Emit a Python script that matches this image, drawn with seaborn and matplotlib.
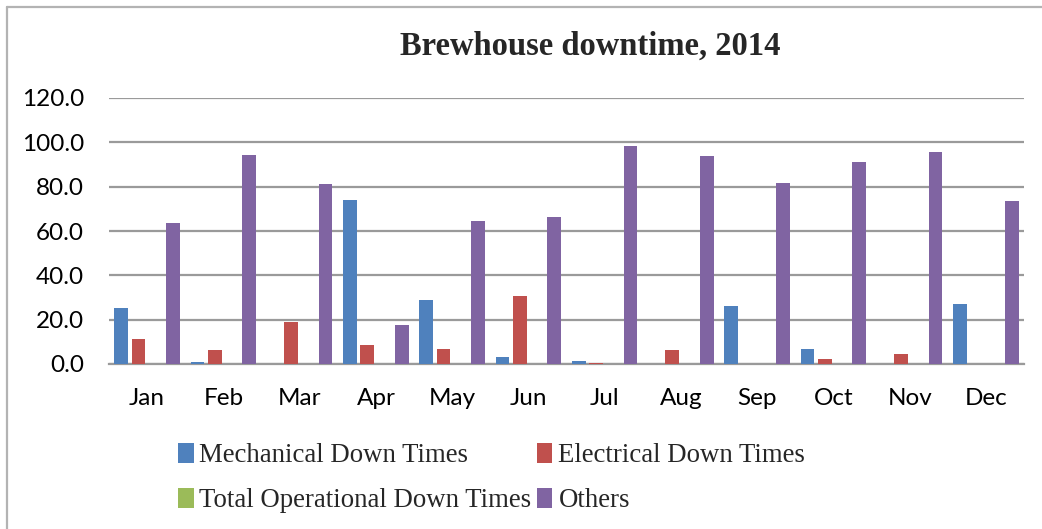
import matplotlib
matplotlib.use("Agg")
import matplotlib.pyplot as plt
from matplotlib.lines import Line2D
import seaborn as sns
import pandas as pd

months = ["Jan", "Feb", "Mar", "Apr", "May", "Jun",
          "Jul", "Aug", "Sep", "Oct", "Nov", "Dec"]
series = ["Mechanical Down Times", "Electrical Down Times",
          "Total Operational Down Times", "Others"]
mechanical = [25.4, 0.9, 0.0, 74.1, 28.9, 3.0, 1.2, 0.0, 26.0, 6.8, 0.0, 26.9]
electrical = [11.1, 6.2, 19.0, 8.6, 6.6, 30.5, 0.3, 6.2, 0.0, 2.1, 4.6, 0.0]
operational = [0.0] * 12
others = [63.6, 94.3, 81.2, 17.7, 64.6, 66.3, 98.3, 93.8, 81.6, 91.3, 95.6, 73.5]
y_ticks = [0, 20, 40, 60, 80, 100, 120]

colors = ["#4F81BD", "#C0504D", "#9BBB59", "#8064A2"]

df = pd.DataFrame({
    "Month": months * 4,
    "Series": sum([[s] * 12 for s in series], []),
    "Hours": mechanical + electrical + operational + others,
})

sns.set_style("white")
plt.rcParams["font.family"] = ["Lato", "DejaVu Sans"]

fig = plt.figure(figsize=(10.42, 5.29), dpi=100)
ax = fig.add_axes([109 / 1042, 1 - 364 / 529, (1024 - 109) / 1042, (364 - 98) / 529])

sns.barplot(data=df, x="Month", y="Hours", hue="Series", order=months,
            hue_order=series, palette=colors, width=0.907, gap=0.2,
            saturation=1, errorbar=None, linewidth=0, ax=ax, legend=True)

# Bars sit on top of the baseline
for bar in ax.patches:
    bar.set_zorder(3)

ax.set_ylim(0, 120)
ax.set_yticks(y_ticks)
ax.set_yticklabels([f"{v:.1f}" for v in y_ticks])
ax.set_xlim(-0.5, 11.5)
ax.yaxis.grid(True, color="#9a9a9a", linewidth=1.6)
ax.set_axisbelow(True)
for side in ["top", "right", "left"]:
    ax.spines[side].set_visible(False)
ax.spines["bottom"].set_color("#9a9a9a")
ax.spines["bottom"].set_linewidth(1.6)
ax.tick_params(axis="both", length=0, labelsize=17.5, colors="black")
ax.tick_params(axis="y", pad=18)
ax.tick_params(axis="x", pad=17)
ax.set_xlabel("")
ax.set_ylabel("")

# Legend laid out row-wise in two columns
handles, labels = ax.get_legend_handles_labels()
ax.get_legend().remove()
order = [0, 2, 1, 3]
fig.legend([handles[i] for i in order], [labels[i] for i in order],
           loc="upper left", bbox_to_anchor=(178 / 1042, 1 - 443 / 529),
           ncol=2, frameon=False,
           prop={"family": "Liberation Serif", "size": 19.3},
           handlelength=0.58, handleheight=0.75, handletextpad=0.22,
           columnspacing=0.2, labelspacing=0.75, borderpad=0, borderaxespad=0)

fig.text(590 / 1042, 1 - 46 / 529, "Brewhouse downtime, 2014",
         ha="center", va="center", fontsize=23.5, fontweight="bold",
         family="Liberation Serif")

# Chart area border (left and top edges)
fig.add_artist(Line2D([7 / 1042, 7 / 1042], [0, 1 - 7 / 529],
                      transform=fig.transFigure, color="#b3b3b3", linewidth=1.6))
fig.add_artist(Line2D([7 / 1042, 1], [1 - 7 / 529, 1 - 7 / 529],
                      transform=fig.transFigure, color="#b3b3b3", linewidth=1.6))

fig.savefig("out.png", dpi=100, facecolor="white")
